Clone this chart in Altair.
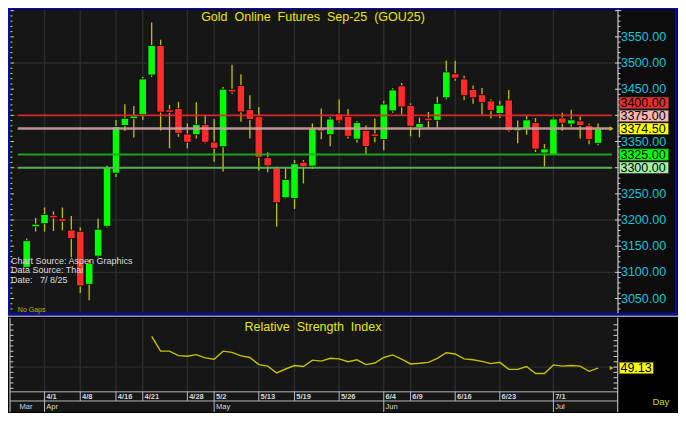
import altair as alt
import pandas as pd

# ---------------- data ----------------
opens = [3109.5, 3189.0, 3193.0, 3208.5, 3202.5, 3181.0, 3178.5, 3077.0, 3131.0, 3188.0,
         3289.5, 3380.5, 3394.0, 3401.5, 3477.0, 3533.5, 3410.5, 3413.0, 3364.5, 3363.0,
         3382.5, 3349.0, 3340.0, 3448.5, 3457.0, 3411.0, 3397.5, 3319.0, 3299.5, 3242.5,
         3241.0, 3310.5, 3303.0, 3374.0, 3363.0, 3403.0, 3398.0, 3354.5, 3371.5, 3364.5,
         3354.0, 3408.5, 3456.5, 3419.0, 3376.5, 3393.0, 3390.5, 3433.5, 3479.5, 3469.5,
         3449.5, 3439.5, 3427.5, 3403.5, 3429.5, 3370.5, 3374.0, 3386.5, 3328.0, 3325.0,
         3395.0, 3383.5, 3389.5, 3381.0, 3346.5]
highs = [3164.5, 3204.0, 3224.0, 3216.5, 3224.0, 3207.5, 3185.5, 3124.0, 3202.5, 3303.5,
         3391.0, 3421.0, 3418.0, 3473.5, 3577.5, 3544.5, 3420.0, 3426.0, 3384.5, 3425.0,
         3400.0, 3393.0, 3454.0, 3496.5, 3478.5, 3438.5, 3416.0, 3329.5, 3302.0, 3300.5,
         3314.5, 3314.5, 3384.5, 3413.0, 3397.0, 3430.5, 3412.0, 3389.0, 3380.5, 3394.0,
         3428.0, 3452.0, 3462.0, 3423.0, 3395.5, 3406.5, 3435.5, 3504.5, 3504.5, 3475.5,
         3457.0, 3452.5, 3431.0, 3428.0, 3448.5, 3390.0, 3400.5, 3395.0, 3345.0, 3395.5,
         3405.0, 3410.5, 3398.0, 3384.5, 3384.5]
lows = [3107.0, 3178.0, 3178.0, 3179.0, 3180.5, 3129.0, 3060.5, 3046.5, 3129.0, 3185.5,
        3282.0, 3370.0, 3357.5, 3391.0, 3473.5, 3371.0, 3337.0, 3359.0, 3337.0, 3356.0,
        3346.5, 3311.5, 3292.5, 3441.5, 3388.0, 3356.0, 3294.5, 3291.5, 3187.5, 3241.0,
        3221.0, 3270.0, 3297.5, 3354.5, 3341.0, 3386.5, 3356.0, 3348.0, 3326.5, 3348.5,
        3333.5, 3405.0, 3401.5, 3360.0, 3358.0, 3375.5, 3376.0, 3430.5, 3466.0, 3429.5,
        3422.0, 3401.5, 3394.0, 3395.0, 3368.0, 3346.5, 3363.0, 3330.0, 3302.5, 3325.0,
        3370.5, 3378.0, 3356.0, 3345.0, 3343.0]
closes = [3160.5, 3190.0, 3210.5, 3204.5, 3197.5, 3164.5, 3074.0, 3117.0, 3182.5, 3300.0,
          3378.5, 3394.5, 3398.5, 3469.5, 3533.5, 3406.0, 3406.0, 3365.5, 3348.5, 3382.5,
          3348.5, 3337.0, 3450.0, 3446.0, 3406.5, 3392.0, 3320.0, 3303.5, 3233.0, 3277.5,
          3307.5, 3302.0, 3375.0, 3371.0, 3393.0, 3389.5, 3360.0, 3386.5, 3340.5, 3359.5,
          3421.5, 3448.5, 3416.0, 3379.0, 3384.5, 3391.5, 3423.0, 3483.0, 3471.0, 3437.5,
          3433.5, 3424.5, 3409.0, 3419.5, 3370.5, 3375.5, 3391.5, 3335.5, 3336.0, 3393.0,
          3385.0, 3391.5, 3380.5, 3353.5, 3374.5]

rsi_first_bar = 14
rsi_values = [79.1, 65.1, 65.1, 60.9, 60.3, 61.8, 58.7, 57.5, 65.1, 63.9,
              60.6, 59.1, 52.4, 50.9, 44.5, 48.2, 51.5, 50.6, 56.6, 55.7,
              58.4, 57.8, 55.1, 56.9, 52.4, 53.9, 59.1, 61.5, 57.5, 53.0,
              53.6, 54.5, 58.2, 63.6, 62.4, 57.8, 56.9, 55.4, 53.3, 54.5,
              47.9, 47.9, 50.6, 43.9, 43.9, 52.1, 50.9, 51.5, 50.9, 46.0, 49.13]

date_labels = ["4/1", "4/8", "4/16", "4/21", "4/28", "5/2", "5/13", "5/19", "5/26",
               "6/4", "6/9", "6/16", "6/23", "7/1"]
date_bars = [2, 6, 10, 13, 18, 21, 26, 30, 35, 40, 43, 48, 53, 59]
month_labels = ["Mar", "Apr", "May", "Jun", "Jul"]
month_bars = [-1, 2, 21, 40, 59]

price_labels = [3550, 3500, 3450, 3350, 3250, 3200, 3150, 3100, 3050]
price_grid = [3100, 3200, 3300, 3400, 3500]
level_values = [3400.0, 3375.0, 3325.0, 3300.0]
last_price = 3374.50
last_rsi = 49.13

title = "Gold\u00a0 Online\u00a0 Futures\u00a0 Sep-25\u00a0 (GOU25)"
rsi_title = "Relative\u00a0 Strength\u00a0 Index"
source_lines = ["Chart Source: Aspen Graphics", "Data Source: Thai", "Date:\u00a0\u00a0 7/\u00a08/25"]

# ---------------- layout / style ----------------
W, H = 670, 405
def X(rx):
    return (rx - 3.0) * W / 681.0
def Y(ry):
    return (ry - 1.0) * H / 421.0
SY = H / 421.0

FONT = "Liberation Sans"
PANEL = "#161616"
AXBG = "#0c0c0c"
GRID = "#2c2c2c"
BLUE = "#0a0ab4"
GREEN = "#00ff00"
RED = "#ff2b2b"
WICK = "#c4c000"
CYAN = "#14c3dc"
YEL = "#e6e600"
LGRAY = "#b8b8b8"

level_line_colors = ["#e82626", "#c9a0a0", "#1fb01f", "#5cb85c"]
level_line_widths = [1.7, 2.5, 2.0, 2.0]
level_box_fill = ["#e82e2e", "#f6b6b6", "#ffff00", "#00ff00", "#a6eea6"]
level_box_values = [3400.0, 3375.0, last_price, 3325.0, 3300.0]
level_box_shift = [-13.0, -13.0, 0.0, 0.0, 0.0]

dummy = alt.Data(values=[{"k": 0}])

xs = alt.Scale(domain=[0, 64], range=[X(22), X(602.7)], nice=False, zero=False)
ps = alt.Scale(domain=[3050, 3550], range=[Y(303), Y(31)], nice=False, zero=False)
rs = alt.Scale(domain=[30, 90], range=[Y(396.3), Y(330.3)], nice=False, zero=False)


def rect(x0, y0, x1, y1, fill=None, stroke=None, sw=1.0):
    kw = {}
    if fill:
        kw["fill"] = fill
    else:
        kw["fillOpacity"] = 0
    if stroke:
        kw["stroke"] = stroke
        kw["strokeWidth"] = sw
    return alt.Chart(dummy).mark_rect(**kw).encode(
        x=alt.value(X(x0)), x2=alt.value(X(x1)), y=alt.value(Y(y0)), y2=alt.value(Y(y1)))


def rule(x0, y0, x1, y1, color, sw=1.0):
    return alt.Chart(dummy).mark_rule(color=color, strokeWidth=sw).encode(
        x=alt.value(X(x0)), x2=alt.value(X(x1)), y=alt.value(Y(y0)), y2=alt.value(Y(y1)))


def text(x, y, s, size, color, align="left", weight="normal"):
    return alt.Chart(dummy).mark_text(
        text=s, fontSize=size, color=color, align=align, baseline="middle",
        font=FONT, fontWeight=weight).encode(x=alt.value(X(x)), y=alt.value(Y(y)))


# ---------------- backgrounds ----------------
backgrounds = [
    rect(5, 2.5, 622.5, 318, fill=PANEL),
    rect(623.5, 2.5, 681, 318, fill=AXBG),
    rect(4, 1.2, 682, 319, stroke=BLUE, sw=2.2),
    rule(3, 321.5, 686, 321.5, "#9a9a9a", 1.5),
    rect(5, 323, 622.7, 421, fill=PANEL),
]

# ---------------- price panel ----------------
cdf = pd.DataFrame({"i": list(range(len(opens))), "open": opens, "high": highs,
                    "low": lows, "close": closes})
cdf["dir"] = ["up" if c >= o else "down" for o, c in zip(opens, closes)]
ddf = pd.DataFrame({"i": date_bars, "lab": date_labels})
mdf = pd.DataFrame({"i": month_bars, "lab": month_labels})

vgrid_main = alt.Chart(ddf).mark_rule(color=GRID, strokeWidth=1.4).encode(
    x=alt.X("i:Q", scale=xs, axis=None), y=alt.value(Y(3)), y2=alt.value(Y(317)))

hgrid_main = alt.Chart(pd.DataFrame({"v": price_grid})).mark_rule(color=GRID, strokeWidth=1.4).encode(
    y=alt.Y("v:Q", scale=ps, axis=None), x=alt.value(X(6)), x2=alt.value(X(622)))

wicks = alt.Chart(cdf).mark_rule(color=WICK, strokeWidth=1.3).encode(
    x=alt.X("i:Q", scale=xs, axis=None),
    y=alt.Y("low:Q", scale=ps, axis=None), y2="high:Q")

bodies = alt.Chart(cdf).transform_calculate(
    bt="max(datum.open, datum.close)", bb="min(datum.open, datum.close)"
).transform_calculate(
    top="datum.bt - datum.bb < 5 ? (datum.bt + datum.bb) / 2 + 2.5 : datum.bt"
).transform_calculate(
    bot="datum.bt - datum.bb < 5 ? (datum.bt + datum.bb) / 2 - 2.5 : datum.bb"
).transform_calculate(
    xl="datum.i - 0.42"
).transform_calculate(
    xr="datum.i + 0.42"
).mark_rect(stroke="#000000", strokeWidth=0.8).encode(
    x=alt.X("xl:Q", scale=xs, axis=None), x2="xr:Q",
    y=alt.Y("bot:Q", scale=ps, axis=None), y2="top:Q",
    color=alt.Color("dir:N", scale=alt.Scale(domain=["up", "down"], range=[GREEN, RED]), legend=None))

level_lines = []
for v, c, w in zip(level_values, level_line_colors, level_line_widths):
    level_lines.append(
        alt.Chart(pd.DataFrame({"v": [v]})).mark_rule(color=c, strokeWidth=w, opacity=0.92).encode(
            y=alt.Y("v:Q", scale=ps, axis=None), x=alt.value(X(12.9)), x2=alt.value(X(617))))

ptick_vals = list(range(3030, 3601, 10))
tdf = pd.DataFrame({"v": ptick_vals, "major": [v % 50 == 0 for v in ptick_vals]})
ticks_minor = tdf[~tdf["major"]]
ticks_major = tdf[tdf["major"]]
price_ticks = [
    alt.Chart(ticks_minor).mark_rule(color="#d0d0d0", strokeWidth=1).encode(
        y=alt.Y("v:Q", scale=ps, axis=None), x=alt.value(X(623)), x2=alt.value(X(625.5))),
    alt.Chart(ticks_major).mark_rule(color="#d0d0d0", strokeWidth=1).encode(
        y=alt.Y("v:Q", scale=ps, axis=None), x=alt.value(X(620)), x2=alt.value(X(626.5))),
    alt.Chart(ticks_minor).mark_rule(color="#d0d0d0", strokeWidth=1).encode(
        y=alt.Y("v:Q", scale=ps, axis=None), x=alt.value(X(5.5)), x2=alt.value(X(7.5))),
    alt.Chart(ticks_major).mark_rule(color="#d0d0d0", strokeWidth=1).encode(
        y=alt.Y("v:Q", scale=ps, axis=None), x=alt.value(X(5.5)), x2=alt.value(X(9))),
]

plabels = alt.Chart(pd.DataFrame({"v": price_labels})).mark_text(
    align="left", baseline="middle", font=FONT, fontSize=12.5, color=CYAN).encode(
    y=alt.Y("v:Q", scale=ps, axis=None), x=alt.value(X(626)),
    text=alt.Text("v:Q", format=".2f"))

boxes = []
for v, f, sh in zip(level_box_values, level_box_fill, level_box_shift):
    d = pd.DataFrame({"v": [v]})
    off = sh * SY
    boxes.append(alt.Chart(d).mark_rect(fill=f, stroke="#303030", strokeWidth=0.6,
                                        yOffset=off - 5.8, y2Offset=off + 5.8).encode(
        y=alt.Y("v:Q", scale=ps, axis=None), y2="v:Q",
        x=alt.value(X(624.3)), x2=alt.value(X(674.5))))
    boxes.append(alt.Chart(d).mark_text(align="left", baseline="middle", font=FONT, fontSize=12.5,
                                        color="#000000", dy=off).encode(
        y=alt.Y("v:Q", scale=ps, axis=None), x=alt.value(X(625.5)),
        text=alt.Text("v:Q", format=".2f")))

last_arrow = alt.Chart(pd.DataFrame({"v": [last_price]})).mark_point(
    shape="triangle-right", filled=True, size=22, color=WICK, opacity=1).encode(
    y=alt.Y("v:Q", scale=ps, axis=None), x=alt.value(X(616.5)))

price_layer = alt.layer(vgrid_main, hgrid_main, wicks, bodies, *level_lines, *price_ticks,
                        plabels, *boxes, last_arrow)

# ---------------- RSI panel ----------------
rdf = pd.DataFrame({"i": list(range(rsi_first_bar, rsi_first_bar + len(rsi_values))),
                    "rsi": rsi_values})
rtick_vals = list(range(30, 91, 5))
rtdf = pd.DataFrame({"v": rtick_vals})

vgrid_rsi = alt.Chart(ddf).mark_rule(color=GRID, strokeWidth=1.4).encode(
    x=alt.X("i:Q", scale=xs, axis=None), y=alt.value(Y(323.5)), y2=alt.value(Y(399.5)))
hgrid_rsi = alt.Chart(pd.DataFrame({"v": [50]})).mark_rule(color=GRID, strokeWidth=1.4).encode(
    y=alt.Y("v:Q", scale=rs, axis=None), x=alt.value(X(6)), x2=alt.value(X(622)))
rsi_line = alt.Chart(rdf).mark_line(color=WICK, strokeWidth=1.4).encode(
    x=alt.X("i:Q", scale=xs, axis=None), y=alt.Y("rsi:Q", scale=rs, axis=None))
rsi_ticks = [
    alt.Chart(rtdf).mark_rule(color="#d0d0d0", strokeWidth=1).encode(
        y=alt.Y("v:Q", scale=rs, axis=None), x=alt.value(X(618.5)), x2=alt.value(X(622.7))),
    alt.Chart(rtdf).mark_rule(color="#d0d0d0", strokeWidth=1).encode(
        y=alt.Y("v:Q", scale=rs, axis=None), x=alt.value(X(5)), x2=alt.value(X(8.5))),
]
rd = pd.DataFrame({"v": [last_rsi]})
rsi_box = alt.Chart(rd).mark_rect(fill="#ffff00", stroke="#303030", strokeWidth=0.6,
                                  yOffset=-5.8, y2Offset=5.8).encode(
    y=alt.Y("v:Q", scale=rs, axis=None), y2="v:Q", x=alt.value(X(624.3)), x2=alt.value(X(659)))
rsi_text = alt.Chart(rd).mark_text(align="left", baseline="middle", font=FONT, fontSize=12.5,
                                   color="#000000").encode(
    y=alt.Y("v:Q", scale=rs, axis=None), x=alt.value(X(625.5)),
    text=alt.Text("v:Q", format=".2f"))
rsi_arrow = alt.Chart(rd).mark_point(shape="triangle-right", filled=True, size=18,
                                     color=WICK, opacity=1).encode(
    y=alt.Y("v:Q", scale=rs, axis=None), x=alt.value(X(616.5)))

rsi_layer = alt.layer(vgrid_rsi, hgrid_rsi, rsi_line, *rsi_ticks, rsi_box, rsi_text, rsi_arrow)

# ---------------- date axis ----------------
date_axis = [
    rule(5, 400, 622.7, 400, LGRAY, 1),
    rule(5, 409.5, 622.7, 409.5, LGRAY, 1),
    rule(5, 323, 5, 421, LGRAY, 1.2),
    rule(622.7, 323, 622.7, 421, LGRAY, 1.2),
    rule(623, 2.5, 623, 318, "#d0d0d0", 1.2),
    alt.Chart(ddf).mark_rule(color=LGRAY, strokeWidth=1).encode(
        x=alt.X("i:Q", scale=xs, axis=None), y=alt.value(Y(400)), y2=alt.value(Y(409.5))),
    alt.Chart(ddf).mark_text(align="left", baseline="middle", font=FONT, fontSize=7.5,
                             fontWeight="bold", color="#d8d8d8", dx=1.8).encode(
        x=alt.X("i:Q", scale=xs, axis=None), y=alt.value(Y(405.3)), text="lab:N"),
    alt.Chart(mdf[mdf["i"] >= 0]).mark_rule(color=LGRAY, strokeWidth=1).encode(
        x=alt.X("i:Q", scale=xs, axis=None), y=alt.value(Y(409.5)), y2=alt.value(Y(421))),
    alt.Chart(mdf).mark_text(align="left", baseline="middle", font=FONT, fontSize=7.5,
                             color="#d8d8d8", dx=1.8).encode(
        x=alt.X("i:Q", scale=xs, axis=None), y=alt.value(Y(415.5)), text="lab:N"),
]

# ---------------- texts ----------------
texts = [
    text(313, 10.5, title, 12.5, YEL, align="center"),
    text(313, 332.5, rsi_title, 12.5, YEL, align="center"),
    text(6, 263.7, source_lines[0], 9, "#dcdcdc"),
    text(6, 273.7, source_lines[1], 9, "#dcdcdc"),
    text(6, 283.7, source_lines[2], 9, "#dcdcdc"),
    text(13, 315, "No Gaps", 7, "#b8b800"),
    text(658, 410.5, "Day", 9.5, "#d4d400"),
]

chart = alt.layer(
    *backgrounds, price_layer, rsi_layer, *date_axis, *texts
).resolve_scale(y="independent").properties(
    width=W, height=H, background="#000000", padding=0,
    autosize=alt.AutoSizeParams(type="none")
).configure_view(stroke=None)

chart.save("out.html", embed_options={"renderer": "svg", "actions": False})
